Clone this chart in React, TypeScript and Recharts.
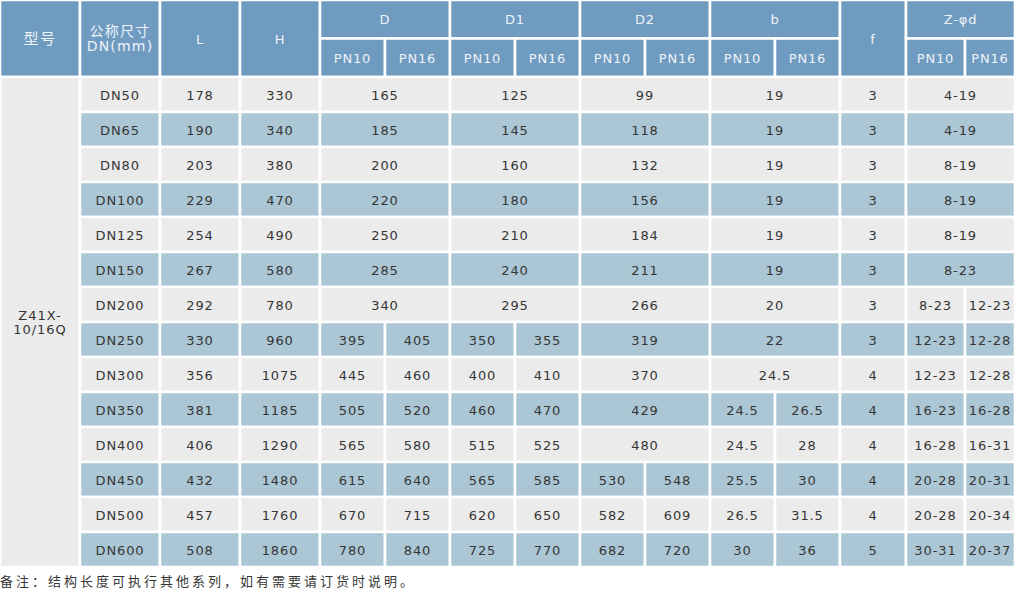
import React from "react";
import { ComposedChart, XAxis, YAxis, ReferenceArea } from "recharts";

// table data, one array per column
const sizes = ["DN50", "DN65", "DN80", "DN100", "DN125", "DN150", "DN200", "DN250", "DN300", "DN350", "DN400", "DN450", "DN500", "DN600"];
const lengthL = ["178", "190", "203", "229", "254", "267", "292", "330", "356", "381", "406", "432", "457", "508"];
const heightH = ["330", "340", "380", "470", "490", "580", "780", "960", "1075", "1185", "1290", "1480", "1760", "1860"];
const dPN10 = ["165", "185", "200", "220", "250", "285", "340", "395", "445", "505", "565", "615", "670", "780"];
const dPN16 = ["165", "185", "200", "220", "250", "285", "340", "405", "460", "520", "580", "640", "715", "840"];
const d1PN10 = ["125", "145", "160", "180", "210", "240", "295", "350", "400", "460", "515", "565", "620", "725"];
const d1PN16 = ["125", "145", "160", "180", "210", "240", "295", "355", "410", "470", "525", "585", "650", "770"];
const d2PN10 = ["99", "118", "132", "156", "184", "211", "266", "319", "370", "429", "480", "530", "582", "682"];
const d2PN16 = ["99", "118", "132", "156", "184", "211", "266", "319", "370", "429", "480", "548", "609", "720"];
const bPN10 = ["19", "19", "19", "19", "19", "19", "20", "22", "24.5", "24.5", "24.5", "25.5", "26.5", "30"];
const bPN16 = ["19", "19", "19", "19", "19", "19", "20", "22", "24.5", "26.5", "28", "30", "31.5", "36"];
const fValues = ["3", "3", "3", "3", "3", "3", "3", "3", "4", "4", "4", "4", "4", "5"];
const zPN10 = ["4-19", "4-19", "8-19", "8-19", "8-19", "8-23", "8-23", "12-23", "12-23", "16-23", "16-28", "20-28", "20-28", "30-31"];
const zPN16 = ["4-19", "4-19", "8-19", "8-19", "8-19", "8-23", "12-23", "12-28", "12-28", "16-28", "16-31", "20-31", "20-34", "20-37"];

const modelName = ["Z41X-", "10/16Q"];
const groupHeaders = ["D", "D1", "D2", "b"];
const pressureHeaders = ["PN10", "PN16"];
const footNote = "备注：结构长度可执行其他系列，如有需要请订货时说明。";

// layout
const W = 1024;
const H = 592;
const colEdges = [0, 80, 160, 240, 320, 385, 450, 515, 580, 645, 710, 775, 840, 906, 965, 1015];
const headTop = 0;
const headMid = 38.5;
const headBottom = 77;
const rowH = 35;

const HEAD_BG = "#6f9bc1";
const ROW_LIGHT = "#ebebeb";
const ROW_BLUE = "#abc6d4";
const HEAD_TEXT = "#eef3f8";
const BODY_TEXT = "#363636";
const FONT = "'DejaVu Sans', 'Noto Sans CJK SC', sans-serif";

interface Cell {
  x1: number;
  x2: number;
  y1: number;
  y2: number;
  fill: string;
  lines: string[];
  color: string;
  size: number;
  spacing: number;
}

function CellLabel(props: any) {
  const { viewBox, lines, color, size, spacing } = props;
  if (!viewBox) return null;
  const cx = viewBox.x + viewBox.width / 2;
  const cy = viewBox.y + viewBox.height / 2;
  const lh = size * 1.1;
  const start = cy - ((lines.length - 1) * lh) / 2;
  return (
    <text
      x={cx}
      y={start}
      textAnchor="middle"
      dominantBaseline="central"
      fill={color}
      fontSize={size}
      fontFamily={FONT}
      letterSpacing={spacing}
    >
      {lines.map((l: string, i: number) => (
        <tspan key={i} x={cx} y={start + i * lh}>
          {l}
        </tspan>
      ))}
    </text>
  );
}

function NoteLabel(props: any) {
  const { viewBox } = props;
  if (!viewBox) return null;
  return (
    <text
      x={viewBox.x}
      y={viewBox.y + viewBox.height / 2}
      dominantBaseline="central"
      fill={BODY_TEXT}
      fontSize={13}
      fontFamily={FONT}
      letterSpacing={3}
    >
      {props.text}
    </text>
  );
}

function buildCells(): Cell[] {
  const cells: Cell[] = [];
  const head = (c1: number, c2: number, y1: number, y2: number, lines: string[], size = 13, spacing = 0.8) =>
    cells.push({ x1: colEdges[c1], x2: colEdges[c2], y1, y2, fill: HEAD_BG, lines, color: HEAD_TEXT, size, spacing });

  head(0, 1, headTop, headBottom, ["型号"], 15, 1.5);
  head(1, 2, headTop, headBottom, ["公称尺寸", "DN(mm)"], 14, 1.2);
  head(2, 3, headTop, headBottom, ["L"]);
  head(3, 4, headTop, headBottom, ["H"]);
  groupHeaders.forEach((g, gi) => {
    const c = 4 + gi * 2;
    head(c, c + 2, headTop, headMid, [g]);
    pressureHeaders.forEach((p, pi) => head(c + pi, c + pi + 1, headMid, headBottom, [p]));
  });
  head(12, 13, headTop, headBottom, ["f"]);
  head(13, 15, headTop, headMid, ["Z-φd"]);
  pressureHeaders.forEach((p, pi) => head(13 + pi, 14 + pi, headMid, headBottom, [p]));

  const bodyBottom = headBottom + sizes.length * rowH;
  cells.push({ x1: colEdges[0], x2: colEdges[1], y1: headBottom, y2: bodyBottom, fill: ROW_LIGHT, lines: modelName, color: BODY_TEXT, size: 13, spacing: 1 });

  const pairs = [
    [dPN10, dPN16],
    [d1PN10, d1PN16],
    [d2PN10, d2PN16],
    [bPN10, bPN16],
  ];

  sizes.forEach((s, i) => {
    const y1 = headBottom + i * rowH;
    const y2 = y1 + rowH;
    const fill = i % 2 === 0 ? ROW_LIGHT : ROW_BLUE;
    const body = (c1: number, c2: number, v: string) =>
      cells.push({ x1: colEdges[c1], x2: colEdges[c2], y1, y2, fill, lines: [v], color: BODY_TEXT, size: 13, spacing: 0.9 });
    body(1, 2, s);
    body(2, 3, lengthL[i]);
    body(3, 4, heightH[i]);
    pairs.forEach(([a, b], pi) => {
      const c = 4 + pi * 2;
      if (a[i] === b[i]) body(c, c + 2, a[i]);
      else {
        body(c, c + 1, a[i]);
        body(c + 1, c + 2, b[i]);
      }
    });
    body(12, 13, fValues[i]);
    if (zPN10[i] === zPN16[i]) body(13, 15, zPN10[i]);
    else {
      body(13, 14, zPN10[i]);
      body(14, 15, zPN16[i]);
    }
  });
  return cells;
}

const cells = buildCells();
const rows = sizes.map((s, i) => ({ size: s, L: Number(lengthL[i]) }));

export default function App() {
  return (
    <div style={{ position: "absolute", left: 0, top: 0, background: "#ffffff" }}>
      <ComposedChart width={W} height={H} data={rows} margin={{ top: 0, right: 0, bottom: 0, left: 0 }}>
        <XAxis type="number" dataKey="L" domain={[0, W]} hide allowDataOverflow />
        <YAxis type="number" domain={[0, H]} reversed hide allowDataOverflow />
        {cells.map((c, i) => (
          <ReferenceArea
            key={i}
            x1={c.x1}
            x2={c.x2}
            y1={c.y1}
            y2={c.y2}
            fill={c.fill}
            fillOpacity={1}
            stroke="#ffffff"
            strokeWidth={2.6}
            ifOverflow="visible"
            label={<CellLabel lines={c.lines} color={c.color} size={c.size} spacing={c.spacing} />}
          />
        ))}
        <ReferenceArea
          x1={0}
          x2={W}
          y1={571}
          y2={592}
          fillOpacity={0}
          ifOverflow="visible"
          label={<NoteLabel text={footNote} />}
        />
      </ComposedChart>
    </div>
  );
}
